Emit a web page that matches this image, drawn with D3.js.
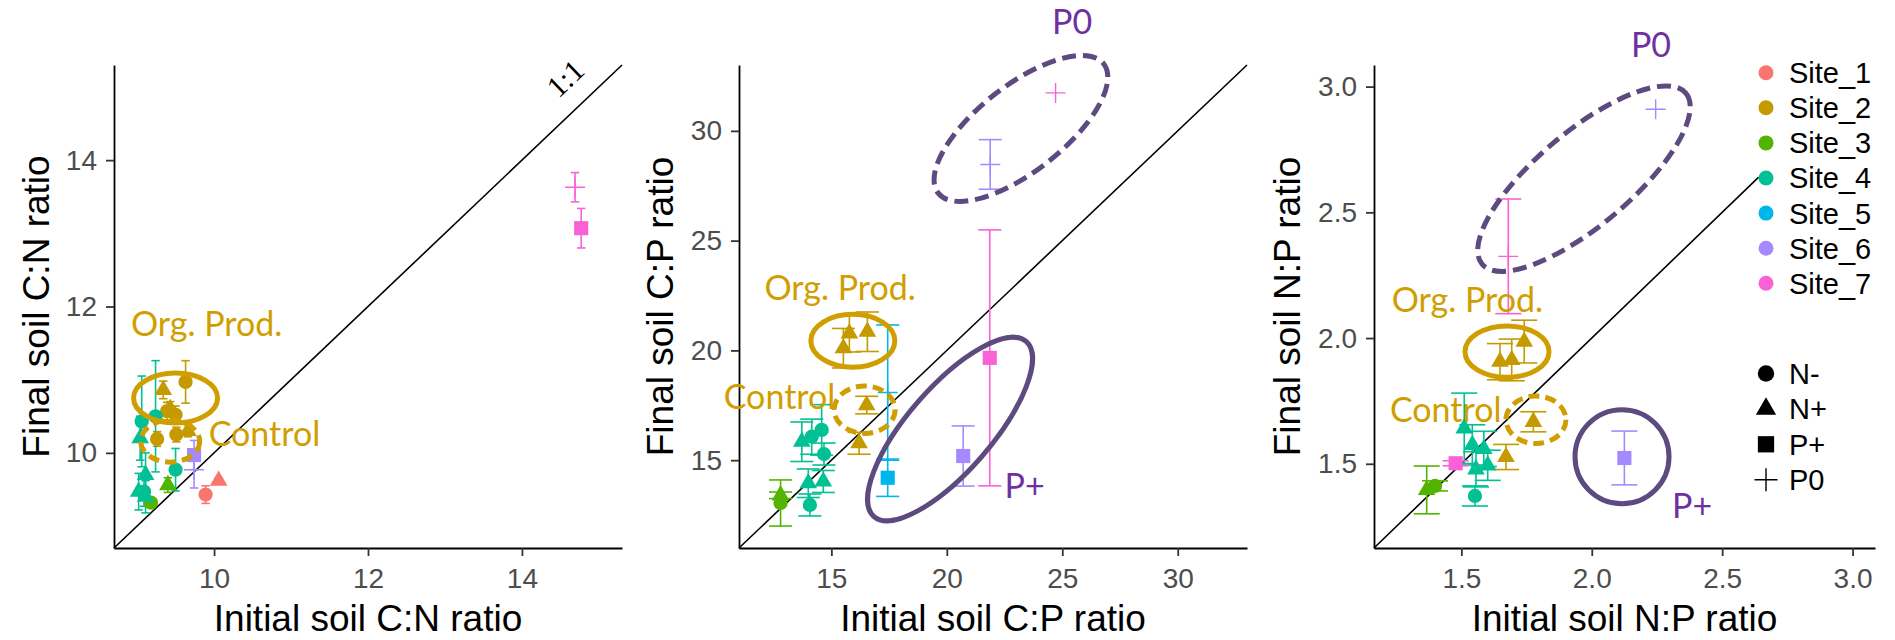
<!DOCTYPE html>
<meta charset='utf-8'>
<style>
body { margin: 0; background: #fff; }
svg { display: block; }
.axis text { font-family: 'Liberation Sans', Arial, sans-serif; font-size: 28px; fill: #4d4d4d; }
.axis .domain { stroke: #000; stroke-width: 1.8px; }
.axis .tick line { stroke: #333; stroke-width: 1.8px; }
.title { font-family: 'Liberation Sans', Arial, sans-serif; font-size: 37px; fill: #000; }
.legend text { font-family: 'Liberation Sans', Arial, sans-serif; font-size: 29px; fill: #000; }
.note { font-family: Lato, 'Open Sans', sans-serif; font-size: 34px; }
</style>
<svg width='1895' height='640'></svg>
<script src='https://d3js.org/d3.v7.min.js'></script>
<script>

var svg = d3.select('svg');

var sites = ['Site_1', 'Site_2', 'Site_3', 'Site_4', 'Site_5', 'Site_6', 'Site_7'];
var siteColors = ['#F8766D', '#C49A00', '#53B400', '#00C094', '#00B6EB', '#A58AFF', '#FB61D7'];
var treatments = ['N-', 'N+', 'P+', 'P0'];

// [site, treatment, initial ratio, final ratio, error]
var cnPoints = [
  ['Site_1', 'N-', 9.89, 9.43, 0.12],
  ['Site_1', 'N+', 10.06, 9.62, 0.04],
  ['Site_2', 'N-', 9.63, 10.97, 0.29],
  ['Site_2', 'N+', 9.34, 10.86, 0.12],
  ['Site_2', 'N-', 9.39, 10.57, 0.12],
  ['Site_2', 'N-', 9.50, 10.52, 0.12],
  ['Site_2', 'N+', 9.43, 10.60, 0.10],
  ['Site_2', 'N-', 9.26, 10.19, 0.10],
  ['Site_2', 'N-', 9.51, 10.25, 0.10],
  ['Site_2', 'N+', 9.66, 10.30, 0.08],
  ['Site_3', 'N+', 9.40, 9.56, 0.10],
  ['Site_3', 'N-', 9.18, 9.32, 0.05],
  ['Site_4', 'N-', 9.06, 10.43, 0.62],
  ['Site_4', 'N-', 9.24, 10.50, 0.76],
  ['Site_4', 'N+', 9.04, 10.20, 0.30],
  ['Site_4', 'N-', 9.50, 9.77, 0.29],
  ['Site_4', 'N+', 9.11, 9.70, 0.30],
  ['Site_4', 'N+', 9.02, 9.47, 0.25],
  ['Site_4', 'N+', 9.11, 9.40, 0.22],
  ['Site_4', 'N-', 9.09, 9.47, 0.20],
  ['Site_6', 'P+', 9.74, 9.97, 0.20],
  ['Site_6', 'P0', 9.74, 9.77, 0.25],
  ['Site_7', 'P0', 14.69, 13.63, 0.20],
  ['Site_7', 'P+', 14.77, 13.07, 0.27]
];

var cpPoints = [
  ['Site_2', 'N+', 15.78, 20.78, 0.85],
  ['Site_2', 'N+', 16.56, 20.85, 0.90],
  ['Site_2', 'N+', 15.52, 20.10, 0.90],
  ['Site_2', 'N+', 16.53, 17.51, 0.40],
  ['Site_2', 'N+', 16.20, 15.77, 0.50],
  ['Site_3', 'N-', 12.80, 13.05, 1.05],
  ['Site_3', 'N+', 12.80, 13.40, 0.15],
  ['Site_4', 'N+', 13.72, 15.84, 0.90],
  ['Site_4', 'N-', 14.58, 16.38, 1.15],
  ['Site_4', 'N-', 14.15, 16.07, 0.80],
  ['Site_4', 'N-', 14.68, 15.28, 0.50],
  ['Site_4', 'N+', 14.00, 13.95, 0.65],
  ['Site_4', 'N+', 14.65, 14.03, 0.50],
  ['Site_4', 'N-', 14.07, 12.96, 0.50],
  ['Site_5', 'P+', 17.44, 14.20, 0.85],
  ['Site_5', 'P0', 17.44, 18.08, 3.08],
  ['Site_6', 'P+', 20.71, 15.19, 1.37],
  ['Site_6', 'P0', 21.88, 28.47, 1.13],
  ['Site_7', 'P+', 21.86, 19.66, 5.83],
  ['Site_7', 'P0', 24.71, 31.73, 0]
];

var npPoints = [
  ['Site_2', 'N+', 1.648, 1.906, 0.072],
  ['Site_2', 'N+', 1.693, 1.913, 0.083],
  ['Site_2', 'N+', 1.741, 1.986, 0.085],
  ['Site_2', 'N+', 1.776, 1.667, 0.040],
  ['Site_2', 'N+', 1.671, 1.527, 0.050],
  ['Site_3', 'N+', 1.367, 1.396, 0.095],
  ['Site_3', 'N-', 1.399, 1.412, 0.020],
  ['Site_4', 'N+', 1.511, 1.641, 0.140],
  ['Site_4', 'N+', 1.542, 1.575, 0.080],
  ['Site_4', 'N+', 1.586, 1.559, 0.070],
  ['Site_4', 'N+', 1.601, 1.494, 0.060],
  ['Site_4', 'N+', 1.556, 1.478, 0.070],
  ['Site_4', 'N-', 1.552, 1.372, 0.040],
  ['Site_6', 'P+', 2.125, 1.523, 0.107],
  ['Site_6', 'P0', 2.245, 2.910, 0],
  ['Site_7', 'P+', 1.478, 1.502, 0.010],
  ['Site_7', 'P0', 1.680, 2.325, 0.228]
];

var cnTicks = [10, 12, 14];
var cpTicks = [15, 20, 25, 30];
var npTicks = [1.5, 2.0, 2.5, 3.0];

// hand drawn call-outs, anchored in data units
// labels: [text, x, y, colour]
var cnLabels = [['Org. Prod.', 8.92, 11.60, 'gold'], ['Control', 9.93, 10.09, 'gold']];
var cpLabels = [['Org. Prod.', 12.10, 22.30, 'gold'], ['Control', 10.34, 17.31, 'gold'],
                ['P0', 24.56, 34.39, 'purple'], ['P+', 22.50, 13.28, 'purple']];
var npLabels = [['Org. Prod.', 1.233, 2.104, 'gold'], ['Control', 1.226, 1.667, 'gold'],
                ['P0', 2.150, 3.118, 'purple'], ['P+', 2.308, 1.286, 'purple']];
// rings: [x, y, rx, ry, tilt, colour, dashed]
var cnRings = [[9.50, 10.75, 42, 25, 0, 'gold', false], [9.43, 10.16, 29.5, 21, 0, 'gold', true]];
var cpRings = [[15.93, 20.44, 42, 26.5, 0, 'gold', false], [16.44, 17.30, 30.5, 23.7, 0, 'gold', true],
               [23.21, 30.11, 105, 43, -38, 'ring', true], [20.14, 16.42, 116, 42, -49, 'ring', false]];
var npRings = [[1.675, 1.946, 42, 25.7, 0, 'gold', false], [1.786, 1.675, 30, 23.7, 0, 'gold', true],
               [1.970, 2.634, 133, 47, -40, 'ring', true], [2.116, 1.528, 47, 47, 0, 'ring', false]];

var noteColor = { gold: '#d09e00', purple: '#7030a0', ring: '#5d4a7e' };

var color = d3.scaleOrdinal(sites, siteColors);

var plotTop = 65, plotBottom = 548;

var panels = [
  { pts: cnPoints, domain: [8.7, 15.3], left: 114, right: 622, ticks: cnTicks, fmt: d3.format('d'),
    xTitle: 'Initial soil C:N ratio', yTitle: 'Final soil C:N ratio', capW: 0.11, diagMax: 15.3,
    labels: cnLabels, rings: cnRings, titleOff: 65 },
  { pts: cpPoints, domain: [11, 33], left: 739, right: 1247, ticks: cpTicks, fmt: d3.format('d'),
    xTitle: 'Initial soil C:P ratio', yTitle: 'Final soil C:P ratio', capW: 1.0, diagMax: 33,
    labels: cpLabels, rings: cpRings, titleOff: 66 },
  { pts: npPoints, domain: [1.165, 3.086], left: 1374, right: 1875, ticks: npTicks, fmt: d3.format('.1f'),
    xTitle: 'Initial soil N:P ratio', yTitle: 'Final soil N:P ratio', capW: 0.1, diagMax: 2.64,
    labels: npLabels, rings: npRings, titleOff: 74 }
];

function shapePath(trt, big) {
  var k = big ? 1.15 : 1;
  if (trt === 'P0') { var h = 10 * k; return 'M' + -h + ',0H' + h + 'M0,' + -h + 'V' + h; }
  var type = { 'N-': d3.symbolCircle, 'N+': d3.symbolTriangle, 'P+': d3.symbolSquare }[trt];
  var size = { 'N-': 160, 'N+': 135, 'P+': 200 }[trt] * k * k;
  return d3.symbol().type(type).size(size)();
}

function drawShape(sel, trt, fill, big) {
  sel.append('path')
    .attr('d', shapePath(trt, big))
    .attr('fill', trt === 'P0' ? 'none' : fill)
    .attr('stroke', trt === 'P0' ? fill : 'none')
    .attr('stroke-width', 1.4);
}

panels.forEach(function(p, pi) {
  var x = d3.scaleLinear().domain(p.domain).range([p.left, p.right]);
  var y = d3.scaleLinear().domain(p.domain).range([plotBottom, plotTop]);
  var g = svg.append('g');

  // 1:1 line
  g.append('line')
    .attr('x1', x(p.domain[0])).attr('y1', y(p.domain[0]))
    .attr('x2', x(p.diagMax)).attr('y2', y(p.diagMax))
    .attr('stroke', '#000').attr('stroke-width', 1.6);

  g.append('g').attr('class', 'axis')
    .attr('transform', 'translate(0,' + plotBottom + ')')
    .call(d3.axisBottom(x).tickValues(p.ticks).tickFormat(p.fmt).tickSize(8).tickSizeOuter(0).tickPadding(12));

  g.append('g').attr('class', 'axis')
    .attr('transform', 'translate(' + p.left + ',0)')
    .call(d3.axisLeft(y).tickValues(p.ticks).tickFormat(p.fmt).tickSize(8).tickSizeOuter(0).tickPadding(9));

  g.append('text').attr('class', 'title')
    .attr('x', (p.left + p.right) / 2).attr('y', 631)
    .attr('text-anchor', 'middle')
    .text(p.xTitle);

  g.append('text').attr('class', 'title')
    .attr('transform', 'translate(' + (p.left - p.titleOff) + ',' + (plotTop + plotBottom) / 2 + ') rotate(-90)')
    .attr('text-anchor', 'middle')
    .text(p.yTitle);

  // error bars
  var bars = g.append('g').selectAll('g')
    .data(p.pts.filter(function(d) { return d[4] > 0; }))
    .enter().append('g')
      .attr('stroke', function(d) { return color(d[0]); })
      .attr('stroke-width', 1.6);
  bars.append('line')
    .attr('x1', function(d) { return x(d[2]); }).attr('x2', function(d) { return x(d[2]); })
    .attr('y1', function(d) { return y(d[3] - d[4]); }).attr('y2', function(d) { return y(d[3] + d[4]); });
  [-1, 1].forEach(function(s) {
    bars.append('line')
      .attr('x1', function(d) { return x(d[2] - p.capW / 2); })
      .attr('x2', function(d) { return x(d[2] + p.capW / 2); })
      .attr('y1', function(d) { return y(d[3] + s * d[4]); })
      .attr('y2', function(d) { return y(d[3] + s * d[4]); });
  });

  // points
  g.append('g').selectAll('g')
    .data(p.pts)
    .enter().append('g')
      .attr('transform', function(d) { return 'translate(' + x(d[2]) + ',' + y(d[3]) + ')'; })
      .each(function(d) { drawShape(d3.select(this), d[1], color(d[0]), false); });

  // call-outs
  g.append('g').selectAll('ellipse')
    .data(p.rings)
    .enter().append('ellipse')
      .attr('transform', function(d) { return 'translate(' + x(d[0]) + ',' + y(d[1]) + ') rotate(' + d[4] + ')'; })
      .attr('rx', function(d) { return d[2]; })
      .attr('ry', function(d) { return d[3]; })
      .attr('fill', 'none')
      .attr('stroke', function(d) { return noteColor[d[5]]; })
      .attr('stroke-width', 5)
      .attr('stroke-dasharray', function(d) { return d[6] ? (d[5] === 'gold' ? '11 6' : '14 7') : null; });

  g.append('g').selectAll('text')
    .data(p.labels)
    .enter().append('text')
      .attr('class', 'note')
      .attr('x', function(d) { return x(d[1]); })
      .attr('y', function(d) { return y(d[2]); })
      .attr('fill', function(d) { return noteColor[d[3]]; })
      .text(function(d) { return d[0]; });

  if (pi === 0) {
    var lx = x(14.56), ly = y(15.12);
    g.append('text')
      .attr('transform', 'translate(' + lx + ',' + ly + ') rotate(-43.6)')
      .attr('text-anchor', 'middle')
      .attr('dominant-baseline', 'central')
      .style('font-family', "'Liberation Serif', 'Times New Roman', serif")
      .style('font-size', '30px')
      .text('1:1');
  }
});

// legends
var legendX = 1766;
var legend = svg.append('g').attr('class', 'legend');
var siteRow = legend.selectAll('.site')
  .data(sites)
  .enter().append('g')
    .attr('class', 'site')
    .attr('transform', function(d, i) { return 'translate(' + legendX + ',' + (72.7 + i * 35.1) + ')'; });
siteRow.append('circle').attr('r', 7.5).attr('fill', function(d) { return color(d); });
siteRow.append('text').attr('x', 23).attr('dy', '0.36em').text(function(d) { return d; });

var trtRow = legend.selectAll('.trt')
  .data(treatments)
  .enter().append('g')
    .attr('class', 'trt')
    .attr('transform', function(d, i) { return 'translate(' + legendX + ',' + (373.5 + i * 35.4) + ')'; });
trtRow.each(function(d) { drawShape(d3.select(this), d, '#000', true); });
trtRow.append('text').attr('x', 23).attr('dy', '0.36em').text(function(d) { return d; });

</script>
